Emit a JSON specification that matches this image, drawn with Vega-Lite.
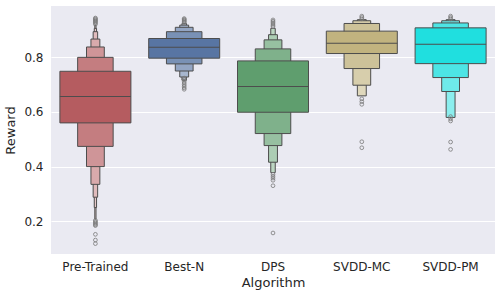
{
  "$schema": "https://vega.github.io/schema/vega-lite/v6.json",
  "autosize": {"type": "none"},
  "width": 444,
  "height": 248,
  "padding": {"left": 51, "top": 6, "right": 5, "bottom": 44},
  "background": "white",
  "datasets": {
    "boxes": [
      {"algo": "Pre-Trained", "level": 7, "box": "Pre-Trained 7", "lo": 0.208, "hi": 0.918},
      {"algo": "Pre-Trained", "level": 6, "box": "Pre-Trained 6", "lo": 0.250, "hi": 0.906},
      {"algo": "Pre-Trained", "level": 5, "box": "Pre-Trained 5", "lo": 0.288, "hi": 0.894},
      {"algo": "Pre-Trained", "level": 4, "box": "Pre-Trained 4", "lo": 0.335, "hi": 0.867},
      {"algo": "Pre-Trained", "level": 3, "box": "Pre-Trained 3", "lo": 0.400, "hi": 0.838},
      {"algo": "Pre-Trained", "level": 2, "box": "Pre-Trained 2", "lo": 0.474, "hi": 0.800},
      {"algo": "Pre-Trained", "level": 1, "box": "Pre-Trained 1", "lo": 0.560, "hi": 0.749},
      {"algo": "Best-N", "level": 5, "box": "Best-N 5", "lo": 0.716, "hi": 0.924},
      {"algo": "Best-N", "level": 4, "box": "Best-N 4", "lo": 0.728, "hi": 0.918},
      {"algo": "Best-N", "level": 3, "box": "Best-N 3", "lo": 0.750, "hi": 0.910},
      {"algo": "Best-N", "level": 2, "box": "Best-N 2", "lo": 0.776, "hi": 0.894},
      {"algo": "Best-N", "level": 1, "box": "Best-N 1", "lo": 0.797, "hi": 0.869},
      {"algo": "DPS", "level": 5, "box": "DPS 5", "lo": 0.378, "hi": 0.906},
      {"algo": "DPS", "level": 4, "box": "DPS 4", "lo": 0.416, "hi": 0.883},
      {"algo": "DPS", "level": 3, "box": "DPS 3", "lo": 0.477, "hi": 0.864},
      {"algo": "DPS", "level": 2, "box": "DPS 2", "lo": 0.521, "hi": 0.831},
      {"algo": "DPS", "level": 1, "box": "DPS 1", "lo": 0.599, "hi": 0.787},
      {"algo": "SVDD-MC", "level": 4, "box": "SVDD-MC 4", "lo": 0.659, "hi": 0.938},
      {"algo": "SVDD-MC", "level": 3, "box": "SVDD-MC 3", "lo": 0.698, "hi": 0.934},
      {"algo": "SVDD-MC", "level": 2, "box": "SVDD-MC 2", "lo": 0.759, "hi": 0.924},
      {"algo": "SVDD-MC", "level": 1, "box": "SVDD-MC 1", "lo": 0.814, "hi": 0.896},
      {"algo": "SVDD-PM", "level": 4, "box": "SVDD-PM 4", "lo": 0.580, "hi": 0.938},
      {"algo": "SVDD-PM", "level": 3, "box": "SVDD-PM 3", "lo": 0.675, "hi": 0.934},
      {"algo": "SVDD-PM", "level": 2, "box": "SVDD-PM 2", "lo": 0.726, "hi": 0.926},
      {"algo": "SVDD-PM", "level": 1, "box": "SVDD-PM 1", "lo": 0.777, "hi": 0.908}
    ],
    "medians": [
      {"algo": "Pre-Trained", "median": 0.657},
      {"algo": "Best-N", "median": 0.837},
      {"algo": "DPS", "median": 0.693},
      {"algo": "SVDD-MC", "median": 0.852},
      {"algo": "SVDD-PM", "median": 0.848}
    ],
    "outliers": [
      {"algo": "Pre-Trained", "reward": 0.921}, {"algo": "Pre-Trained", "reward": 0.925},
      {"algo": "Pre-Trained", "reward": 0.929}, {"algo": "Pre-Trained", "reward": 0.932},
      {"algo": "Pre-Trained", "reward": 0.935}, {"algo": "Pre-Trained", "reward": 0.938},
      {"algo": "Pre-Trained", "reward": 0.941}, {"algo": "Pre-Trained", "reward": 0.944},
      {"algo": "Pre-Trained", "reward": 0.203}, {"algo": "Pre-Trained", "reward": 0.199},
      {"algo": "Pre-Trained", "reward": 0.195}, {"algo": "Pre-Trained", "reward": 0.191},
      {"algo": "Pre-Trained", "reward": 0.187}, {"algo": "Pre-Trained", "reward": 0.184},
      {"algo": "Pre-Trained", "reward": 0.152}, {"algo": "Pre-Trained", "reward": 0.131},
      {"algo": "Pre-Trained", "reward": 0.118},
      {"algo": "Best-N", "reward": 0.927}, {"algo": "Best-N", "reward": 0.930},
      {"algo": "Best-N", "reward": 0.933}, {"algo": "Best-N", "reward": 0.936},
      {"algo": "Best-N", "reward": 0.939}, {"algo": "Best-N", "reward": 0.942},
      {"algo": "Best-N", "reward": 0.724}, {"algo": "Best-N", "reward": 0.718},
      {"algo": "Best-N", "reward": 0.712}, {"algo": "Best-N", "reward": 0.706},
      {"algo": "Best-N", "reward": 0.700}, {"algo": "Best-N", "reward": 0.694},
      {"algo": "Best-N", "reward": 0.688}, {"algo": "Best-N", "reward": 0.683},
      {"algo": "DPS", "reward": 0.912}, {"algo": "DPS", "reward": 0.917},
      {"algo": "DPS", "reward": 0.922}, {"algo": "DPS", "reward": 0.927},
      {"algo": "DPS", "reward": 0.932}, {"algo": "DPS", "reward": 0.937},
      {"algo": "DPS", "reward": 0.372}, {"algo": "DPS", "reward": 0.365},
      {"algo": "DPS", "reward": 0.358}, {"algo": "DPS", "reward": 0.350},
      {"algo": "DPS", "reward": 0.330}, {"algo": "DPS", "reward": 0.157},
      {"algo": "SVDD-MC", "reward": 0.941}, {"algo": "SVDD-MC", "reward": 0.946},
      {"algo": "SVDD-MC", "reward": 0.951},
      {"algo": "SVDD-MC", "reward": 0.648}, {"algo": "SVDD-MC", "reward": 0.638},
      {"algo": "SVDD-MC", "reward": 0.628}, {"algo": "SVDD-MC", "reward": 0.491},
      {"algo": "SVDD-MC", "reward": 0.469},
      {"algo": "SVDD-PM", "reward": 0.941}, {"algo": "SVDD-PM", "reward": 0.946},
      {"algo": "SVDD-PM", "reward": 0.951},
      {"algo": "SVDD-PM", "reward": 0.583}, {"algo": "SVDD-PM", "reward": 0.575},
      {"algo": "SVDD-PM", "reward": 0.567}, {"algo": "SVDD-PM", "reward": 0.490},
      {"algo": "SVDD-PM", "reward": 0.463}
    ]
  },
  "encoding": {
    "x": {
      "field": "algo", "type": "nominal",
      "sort": ["Pre-Trained", "Best-N", "DPS", "SVDD-MC", "SVDD-PM"],
      "scale": {"type": "band", "paddingInner": 0, "paddingOuter": 0},
      "axis": {"title": "Algorithm", "labelAngle": 0}
    }
  },
  "layer": [
    {
      "data": {"name": "boxes"},
      "mark": {"type": "bar", "stroke": "#4d4d4d", "strokeWidth": 1},
      "encoding": {
        "y": {
          "field": "lo", "type": "quantitative",
          "scale": {"domain": [0.08, 0.988], "nice": false, "zero": false},
          "axis": {"title": "Reward", "values": [0.2, 0.4, 0.6, 0.8], "format": ".1f"}
        },
        "y2": {"field": "hi"},
        "size": {
          "field": "level", "type": "quantitative", "legend": null,
          "scale": {"type": "linear", "domain": [1, 2, 3, 4, 5, 6, 7], "range": [71, 35.5, 17.8, 8.9, 4.5, 2.3, 1.2]}
        },
        "fill": {
          "field": "box", "type": "nominal", "legend": null,
          "scale": {
            "domain": [
              "Pre-Trained 1", "Pre-Trained 2", "Pre-Trained 3", "Pre-Trained 4", "Pre-Trained 5", "Pre-Trained 6", "Pre-Trained 7",
              "Best-N 1", "Best-N 2", "Best-N 3", "Best-N 4", "Best-N 5",
              "DPS 1", "DPS 2", "DPS 3", "DPS 4", "DPS 5",
              "SVDD-MC 1", "SVDD-MC 2", "SVDD-MC 3", "SVDD-MC 4",
              "SVDD-PM 1", "SVDD-PM 2", "SVDD-PM 3", "SVDD-PM 4"
            ],
            "range": [
              "#b55c60", "#c47d80", "#cf9598", "#d9aaac", "#e0bbbc", "#e6c8c9", "#ead1d2",
              "#5875a3", "#7991b5", "#93a5c3", "#a8b7cf", "#b9c5d8",
              "#5f9e6e", "#7fb18b", "#97c0a1", "#accdb4", "#bcd6c2",
              "#c1b37f", "#cdc299", "#d7ceac", "#dfd8bc",
              "#20dfdf", "#4de5e5", "#6eeaea", "#8beeee"
            ]
          }
        }
      }
    },
    {
      "data": {"name": "medians"},
      "mark": {"type": "tick", "size": 71, "thickness": 1, "color": "#4d4d4d", "opacity": 1},
      "encoding": {
        "y": {"field": "median", "type": "quantitative"}
      }
    },
    {
      "data": {"name": "outliers"},
      "mark": {"type": "point", "shape": "circle", "filled": false, "size": 14, "strokeWidth": 0.8, "color": "#7a7a7a", "opacity": 1},
      "encoding": {
        "y": {"field": "reward", "type": "quantitative"}
      }
    }
  ],
  "config": {
    "font": "DejaVu Sans",
    "view": {"fill": "#eaeaf2", "stroke": null},
    "axis": {
      "domain": false,
      "ticks": false,
      "labelFont": "DejaVu Sans",
      "titleFont": "DejaVu Sans",
      "labelFontSize": 12,
      "titleFontSize": 13,
      "titleFontWeight": "normal",
      "labelColor": "#262626",
      "titleColor": "#262626",
      "gridColor": "#ffffff",
      "gridWidth": 1.2,
      "gridOpacity": 1
    },
    "axisX": {"grid": false, "labelPadding": 7, "titlePadding": 4},
    "axisY": {"grid": true, "labelPadding": 8, "titlePadding": 6}
  }
}
